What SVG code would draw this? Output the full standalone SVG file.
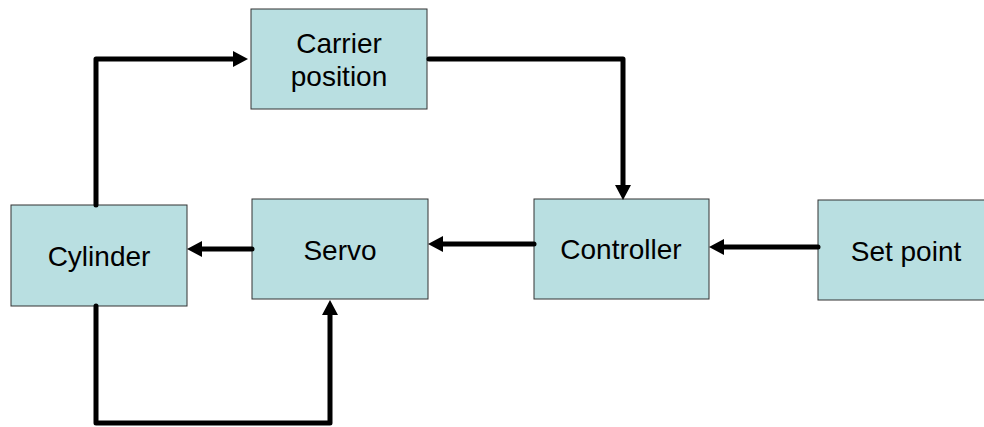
<svg xmlns="http://www.w3.org/2000/svg" width="984" height="427" viewBox="0 0 984 427">
  <style>
    .box { fill: #b9dfe1; stroke: #333; stroke-width: 1; }
    .lbl { font-family: "Liberation Sans", Arial, sans-serif; font-size: 28px; fill: #000; text-anchor: middle; }
    .wire { fill: none; stroke: #000; stroke-width: 5; stroke-linejoin: round; stroke-linecap: round; }
    .head { fill: #000; }
  </style>
  <rect width="984" height="427" fill="#fff"/>

  <g id="carrier-position">
    <rect class="box" x="251" y="9" width="176" height="100"/>
    <text class="lbl" x="339" y="53">Carrier</text>
    <text class="lbl" x="339" y="86">position</text>
  </g>
  <g id="cylinder">
    <rect class="box" x="11" y="205" width="176" height="101"/>
    <text class="lbl" x="99" y="266">Cylinder</text>
  </g>
  <g id="servo">
    <rect class="box" x="252" y="199" width="176" height="100"/>
    <text class="lbl" x="340" y="260">Servo</text>
  </g>
  <g id="controller">
    <rect class="box" x="534" y="199" width="175" height="100"/>
    <text class="lbl" x="621" y="259">Controller</text>
  </g>
  <g id="set-point">
    <rect class="box" x="818" y="200" width="176" height="100"/>
    <text class="lbl" x="906" y="261">Set point</text>
  </g>

  <g id="connectors">
    <!-- Cylinder up to Carrier position -->
    <path class="wire" d="M96 205 V59 H235"/>
    <polygon class="head" points="248,59 233,51 233,67"/>
    <!-- Carrier position down to Controller -->
    <path class="wire" d="M429 59 H623 V186"/>
    <polygon class="head" points="623,200 615,185 631,185"/>
    <!-- Controller to Servo -->
    <path class="wire" d="M534 244 H441"/>
    <polygon class="head" points="428,244 443,236 443,252"/>
    <!-- Set point to Controller -->
    <path class="wire" d="M818 247 H722"/>
    <polygon class="head" points="709,247 724,239 724,255"/>
    <!-- Servo to Cylinder -->
    <path class="wire" d="M252 249 H200"/>
    <polygon class="head" points="187,249 202,241 202,257"/>
    <!-- Cylinder feedback to Servo -->
    <path class="wire" d="M96 306 V423 H330 V313"/>
    <polygon class="head" points="330,300 322,315 338,315"/>
  </g>
</svg>
